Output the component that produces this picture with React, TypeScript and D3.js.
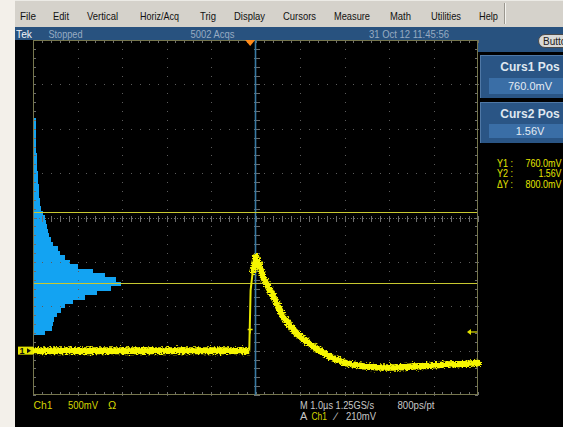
import React, { useEffect, useRef } from 'react'
import * as d3 from 'd3'

// menu bar
const menuItems = ['File', 'Edit', 'Vertical', 'Horiz/Acq', 'Trig', 'Display', 'Cursors', 'Measure', 'Math', 'Utilities', 'Help']
const menuLeft = [20, 53, 87, 140, 200, 234, 283, 334, 390, 431, 479]
const menuWidth = [16, 16, 31, 39, 16, 31, 33, 36, 21, 30, 19]

// scope settings
const timeDomain = [-5, 5]       // µs, 1.0µs/div, 10 div
const voltDomain = [-0.5, 3.5]   // V, 500mV/div, 8 div
const cursorVolts = [0.76, 1.56]
const triggerLevel = 0.21
const triggerTime = -0.12

// vertical histogram, 50 mV bins
const histVolts = [2.60, 2.55, 2.50, 2.45, 2.40, 2.35, 2.30, 2.25, 2.20, 2.15, 2.10, 2.05, 2.00, 1.95, 1.90, 1.85, 1.80, 1.75, 1.70, 1.65,
  1.60, 1.55, 1.50, 1.45, 1.40, 1.35, 1.30, 1.25, 1.20, 1.15, 1.10, 1.05, 1.00, 0.95, 0.90, 0.85, 0.80, 0.75, 0.70, 0.65,
  0.60, 0.55, 0.50, 0.45, 0.40, 0.35, 0.30, 0.25, 0.20]
const histHits = [30, 30, 30, 30, 30, 30, 30, 30, 40, 40, 40, 40, 50, 50, 50, 60, 60, 60, 70, 70,
  80, 100, 120, 130, 140, 150, 160, 180, 200, 250, 270, 320, 370, 450, 600, 720, 830, 880, 780, 640,
  520, 400, 320, 280, 240, 210, 200, 190, 120]

// Ch1 waveform (µs, V)
const traceTime = [-5, -4, -3, -2, -1, -0.5, -0.14, -0.11, -0.06, 0.01, 0.17, 0.4, 0.62, 0.92, 1.3, 1.67, 2.05, 2.42, 2.8, 3.17, 3.54, 3.92, 4.29, 4.66, 5]
const traceVolts = [0, 0, 0, 0, 0, 0, 0, 0.68, 0.9, 1.06, 0.83, 0.606, 0.38, 0.194, 0.045, -0.07, -0.145, -0.175, -0.19, -0.19, -0.18, -0.17, -0.155, -0.15, -0.14]

const W = 563
const H = 427
const FONT = 'Liberation Sans, Arial, sans-serif'

function App() {
  const ref = useRef(null)

  useEffect(() => {
    drawScope(ref.current)
  }, [])

  return (
    <svg ref={ref} width={W} height={H} style={{ position: 'absolute', left: 0, top: 0 }} />
  )
}

function txt(g, s, x, y, size, fill, opts: any = {}) {
  const t = g.append('text')
    .attr('x', x)
    .attr('y', y)
    .attr('font-family', FONT)
    .attr('font-size', size)
    .attr('fill', fill)
    .text(s)
  if (opts.width) t.attr('textLength', opts.width).attr('lengthAdjust', 'spacingAndGlyphs')
  if (opts.anchor) t.attr('text-anchor', opts.anchor)
  if (opts.bold) t.attr('font-weight', 'bold')
  return t
}

function drawScope(node) {
  const svg = d3.select(node)
  svg.selectAll('*').remove()

  const left = 33, right = 478, top = 40, bottom = 395
  const x = d3.scaleLinear().domain(timeDomain).range([left, right])
  const y = d3.scaleLinear().domain(voltDomain).range([bottom, top])
  const hitX = d3.scaleLinear().domain([0, 4450]).range([left, right])

  const defs = svg.append('defs')
  const f = defs.append('filter').attr('id', 'noise')
    .attr('filterUnits', 'userSpaceOnUse')
    .attr('x', 0).attr('y', 0).attr('width', W).attr('height', H)
  f.append('feTurbulence').attr('type', 'fractalNoise').attr('baseFrequency', '0.5 0.9')
    .attr('numOctaves', 2).attr('seed', 4).attr('result', 'n')
  f.append('feDisplacementMap').attr('in', 'SourceGraphic').attr('in2', 'n')
    .attr('scale', 6).attr('xChannelSelector', 'R').attr('yChannelSelector', 'G')
  defs.append('clipPath').attr('id', 'page').append('rect').attr('width', W).attr('height', H)

  const root = svg.append('g').attr('clip-path', 'url(#page)')

  // backgrounds
  root.append('rect').attr('width', W).attr('height', H).attr('fill', '#f3f0ea')
  root.append('rect').attr('x', 15).attr('y', 0).attr('width', W - 15).attr('height', H).attr('fill', '#000')

  // menu bar
  root.append('rect').attr('x', 15).attr('y', 0).attr('width', W - 15).attr('height', 27).attr('fill', '#d5d2cb')
  root.append('line').attr('x1', 15).attr('x2', W).attr('y1', 0.5).attr('y2', 0.5).attr('stroke', '#ecebe6')
  root.append('line').attr('x1', 504.5).attr('x2', 504.5).attr('y1', 3).attr('y2', 24).attr('stroke', '#9a978f')
  root.append('line').attr('x1', 505.5).attr('x2', 505.5).attr('y1', 3).attr('y2', 24).attr('stroke', '#f4f3ef')
  menuItems.forEach((m, i) => {
    txt(root, m, menuLeft[i], 19.5, 11, '#111', { width: menuWidth[i] })
  })

  // status bar
  root.append('rect').attr('x', 15).attr('y', 27).attr('width', W - 15).attr('height', 13).attr('fill', '#28527f')
  root.append('rect').attr('x', right).attr('y', 27).attr('width', W - right).attr('height', 25).attr('fill', '#28527f')
  txt(root, 'Tek', 16, 37.5, 11, '#f2f4f8', { width: 16 })
  txt(root, 'Stopped', 48.5, 37.5, 11, '#97abc2', { width: 34 })
  txt(root, '5002 Acqs', 190.5, 37.5, 11, '#97abc2', { width: 44 })
  txt(root, '31 Oct 12 11:45:56', 369, 37.5, 11, '#97abc2', { width: 80 })

  // button (cut by the screen edge)
  root.append('rect').attr('x', 538.5).attr('y', 34.5).attr('width', 40).attr('height', 13).attr('rx', 6.5)
    .attr('fill', '#d9d9d6').attr('stroke', '#4a4a4a')
  txt(root, 'Butto', 543, 44.5, 10, '#222')

  // cursor panels
  const panels = [
    { title: 'Curs1 Pos', value: '760.0mV', y0: 55, h: 43, vy: 78, vh: 16 },
    { title: 'Curs2 Pos', value: '1.56V', y0: 102, h: 41, vy: 124, vh: 14 }
  ]
  panels.forEach(p => {
    root.append('rect').attr('x', 480).attr('y', p.y0).attr('width', W - 480).attr('height', p.h).attr('fill', '#2a5585')
    root.append('line').attr('x1', 480).attr('x2', W).attr('y1', p.y0 + 0.5).attr('y2', p.y0 + 0.5).attr('stroke', '#4f78a6')
    root.append('line').attr('x1', 480.5).attr('x2', 480.5).attr('y1', p.y0).attr('y2', p.y0 + p.h).attr('stroke', '#4f78a6')
    root.append('rect').attr('x', 489).attr('y', p.vy).attr('width', W - 489).attr('height', p.vh).attr('fill', '#3a6ea6')
    txt(root, p.title, 530, p.y0 + 16, 12, '#dfe7f0', { anchor: 'middle', bold: true })
    txt(root, p.value, 530, p.vy + p.vh / 2 + 4, 11, '#e4ebf3', { anchor: 'middle' })
  })

  // cursor readout
  const readLabels = ['Y1 :', 'Y2 :', '\u0394Y :']
  const readValues = ['760.0mV', '1.56V', '800.0mV']
  const readWidths = [36, 23, 36]
  readLabels.forEach((r, i) => {
    txt(root, r, 497, 167 + i * 10.3, 10, '#e6e600', { width: 16 })
    txt(root, readValues[i], 525.5 + (36 - readWidths[i]), 167 + i * 10.3, 10, '#e6e600', { width: readWidths[i] })
  })

  // histogram as one stepped outline
  const bin = 0.05
  const steps = []
  histVolts.forEach((v, i) => {
    steps.push([hitX(histHits[i]), y(v + bin / 2)])
    steps.push([hitX(histHits[i]), y(v - bin / 2)])
  })
  const histPath = d3.line()(steps) + `L${left},${y(histVolts[histVolts.length - 1] - bin / 2)}L${left},${y(histVolts[0] + bin / 2)}Z`
  root.append('path')
    .attr('d', histPath)
    .attr('fill', '#13a3f2')
    .attr('shape-rendering', 'crispEdges')

  // graticule
  const grid = root.append('g').attr('shape-rendering', 'crispEdges')
  const divX = d3.range(0, 11).map(i => left + (right - left) * i / 10)
  const divY = d3.range(0, 9).map(i => top + (bottom - top) * i / 8)
  const subX = d3.range(0, 51).map(i => left + (right - left) * i / 50)
  const subY = d3.range(0, 41).map(i => top + (bottom - top) * i / 40)
  const dotColor = '#5c5c5c'

  divX.slice(1, -1).forEach((gx, i) => {
    if (i === 4) return
    subY.forEach(sy => {
      grid.append('rect').attr('x', Math.round(gx)).attr('y', Math.round(sy)).attr('width', 1).attr('height', 1).attr('fill', dotColor)
    })
  })
  divY.slice(1, -1).forEach((gy, i) => {
    if (i === 3) return
    subX.forEach(sx => {
      grid.append('rect').attr('x', Math.round(sx)).attr('y', Math.round(gy)).attr('width', 1).attr('height', 1).attr('fill', dotColor)
    })
  })

  // time reference line
  root.append('line').attr('x1', x(0)).attr('x2', x(0)).attr('y1', top).attr('y2', bottom)
    .attr('stroke', '#3a7aa2').attr('stroke-width', 1.6)

  // centre lines with ticks
  const cx = Math.round(divX[5]) + 0.5
  const cy = Math.round(divY[4]) + 0.5
  grid.append('line').attr('x1', left).attr('x2', right).attr('y1', cy).attr('y2', cy)
    .attr('stroke', '#6a6a6a').attr('stroke-dasharray', '1,2')
  subX.forEach(sx => {
    grid.append('line').attr('x1', Math.round(sx) + 0.5).attr('x2', Math.round(sx) + 0.5).attr('y1', cy - 3).attr('y2', cy + 3).attr('stroke', '#6e6e6e')
  })
  subY.forEach(sy => {
    grid.append('line').attr('x1', cx - 3).attr('x2', cx + 3).attr('y1', Math.round(sy) + 0.5).attr('y2', Math.round(sy) + 0.5).attr('stroke', '#6e6e6e')
  })

  // border ticks
  subX.forEach(sx => {
    grid.append('line').attr('x1', Math.round(sx) + 0.5).attr('x2', Math.round(sx) + 0.5).attr('y1', top).attr('y2', top + 3).attr('stroke', '#6e6e6e')
    grid.append('line').attr('x1', Math.round(sx) + 0.5).attr('x2', Math.round(sx) + 0.5).attr('y1', bottom - 3).attr('y2', bottom).attr('stroke', '#6e6e6e')
  })
  subY.forEach(sy => {
    grid.append('line').attr('x1', left).attr('x2', left + 3).attr('y1', Math.round(sy) + 0.5).attr('y2', Math.round(sy) + 0.5).attr('stroke', '#6e6e6e')
    grid.append('line').attr('x1', right - 3).attr('x2', right).attr('y1', Math.round(sy) + 0.5).attr('y2', Math.round(sy) + 0.5).attr('stroke', '#6e6e6e')
  })
  grid.append('rect').attr('x', left + 0.5).attr('y', top + 0.5).attr('width', right - left - 1).attr('height', bottom - top - 1)
    .attr('fill', 'none').attr('stroke', '#76764e')

  // cursors
  root.append('g').selectAll('line')
    .data(cursorVolts)
    .enter()
    .append('line')
    .attr('shape-rendering', 'crispEdges')
    .attr('x1', left + 1)
    .attr('x2', right - 1)
    .attr('y1', d => Math.round(y(d)) + 0.5)
    .attr('y2', d => Math.round(y(d)) + 0.5)
    .attr('stroke', '#c8c830')

  // trigger position marker
  const tx = x(triggerTime)
  root.append('path')
    .attr('d', `M${tx - 5},${top} L${tx + 5},${top} L${tx},${top + 6} Z`)
    .attr('fill', '#ff8a18')

  // waveform: thick noisy segments, thin fast rising edge
  const rise0 = 6, rise1 = 9
  const line = d3.line()
    .x(d => x(traceTime[d]))
    .y(d => y(traceVolts[d]))
  const idx = traceVolts.map((v, i) => i)
  const trace = root.append('g').attr('filter', 'url(#noise)')
  trace.append('path')
    .datum(idx.slice(0, rise0 + 1))
    .attr('d', line)
    .attr('fill', 'none')
    .attr('stroke', '#f6f600')
    .attr('stroke-width', 7)
    .attr('stroke-linejoin', 'round')
  trace.append('path')
    .datum(idx.slice(rise1 - 1))
    .attr('d', line)
    .attr('fill', 'none')
    .attr('stroke', '#f6f600')
    .attr('stroke-width', 6.5)
    .attr('stroke-linejoin', 'round')
    .attr('stroke-linecap', 'round')
  root.append('path')
    .datum(idx.slice(rise0, rise1))
    .attr('d', line)
    .attr('fill', 'none')
    .attr('stroke', '#e8e800')
    .attr('stroke-width', 2)

  // trigger level marks
  const ty = y(triggerLevel)
  root.append('path').attr('d', `M${tx - 2.5},${ty - 2.5} H${tx + 2.5} M${tx},${ty - 2.5} V${ty + 1.5}`)
    .attr('stroke', '#e6e600').attr('stroke-width', 1.3).attr('fill', 'none')
  root.append('path').attr('d', `M${right - 9},${ty} H${right - 1}`).attr('stroke', '#e0e000').attr('stroke-width', 1.2)
  root.append('path').attr('d', `M${right - 11},${ty} L${right - 7},${ty - 3} L${right - 7},${ty + 3} Z`).attr('fill', '#e0e000')

  // ground marker
  const gy = y(0)
  root.append('rect').attr('x', 18).attr('y', gy - 4).attr('width', 15).attr('height', 8).attr('fill', '#e6e600')
  txt(root, '1', 19.5, gy + 3.5, 9, '#111', { bold: true })
  root.append('path').attr('d', `M${27},${gy - 2.5} L${31},${gy} L${27},${gy + 2.5} Z`).attr('fill', '#111')

  // bottom readouts
  txt(root, 'Ch1', 33.5, 408.5, 11, '#d6d600', { width: 19 })
  txt(root, '500mV', 68, 408.5, 11, '#d6d600', { width: 30 })
  txt(root, '\u03A9', 108, 408.5, 11, '#d6d600')
  txt(root, 'M 1.0\u00B5s 1.25GS/s', 300, 408.5, 11, '#c8c8c8', { width: 74 })
  txt(root, '800ps/pt', 397.5, 408.5, 11, '#c8c8c8', { width: 37 })
  txt(root, 'A', 300, 419.5, 11, '#c8c8c8')
  txt(root, 'Ch1', 311.5, 419.5, 11, '#d6d600', { width: 15.5 })
  txt(root, '\u2215', 335, 419.5, 11, '#c8c8c8')
  txt(root, '210mV', 346, 419.5, 11, '#c8c8c8', { width: 30 })
}

export default App
